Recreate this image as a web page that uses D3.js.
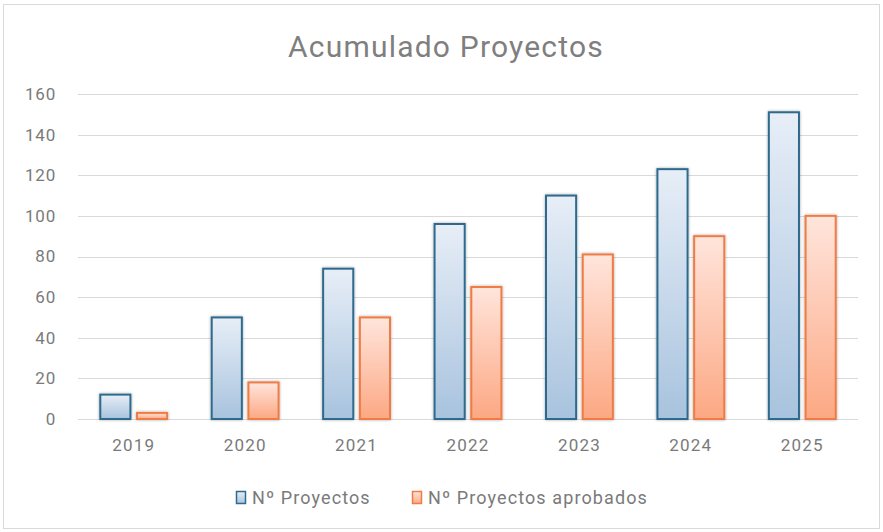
<html>
<head>
<meta charset="utf-8">
<script src="https://d3js.org/d3.v7.min.js"></script>
<style>
  body { margin: 0; background: #fff; }
  text { font-family: Roboto, "Noto Sans", sans-serif; }
</style>
</head>
<body>
<svg class="chart" width="883" height="532"></svg>
<script>

const years = ["2019", "2020", "2021", "2022", "2023", "2024", "2025"];
const proyectos = [12, 50, 74, 96, 110, 123, 151];
const aprobados = [3, 18, 50, 65, 81, 90, 100];
const yTicks = [0, 20, 40, 60, 80, 100, 120, 140, 160];
const seriesNames = ["Nº Proyectos", "Nº Proyectos aprobados"];

const svg = d3.select(".chart");

const margin = {left: 78, right: 25, top: 94, bottom: 113};
const W = 883, H = 532;
const labelGray = "#7a7a7a";

// outer frame
svg.append("rect")
    .attr("x", 3.5).attr("y", 4.5)
    .attr("width", W - 7).attr("height", H - 8)
    .attr("fill", "#fff").attr("stroke", "#d9d9d9");

const defs = svg.append("defs");
const grads = [["gBlue", "#e7eef7", "#a8c3de"], ["gOrange", "#ffe5dc", "#fca883"]];
grads.forEach(g => {
  const lg = defs.append("linearGradient").attr("id", g[0])
      .attr("x1", 0).attr("y1", 0).attr("x2", 0).attr("y2", 1);
  lg.append("stop").attr("offset", "0%").attr("stop-color", g[1]);
  lg.append("stop").attr("offset", "100%").attr("stop-color", g[2]);
});
const f = defs.append("filter").attr("id", "shadow")
    .attr("x", "-30%").attr("y", "-10%").attr("width", "160%").attr("height", "120%");
f.append("feGaussianBlur").attr("in", "SourceAlpha").attr("stdDeviation", 1.6).attr("result", "b");
f.append("feComponentTransfer").attr("in", "b").attr("result", "b2")
  .append("feFuncA").attr("type", "linear").attr("slope", 0.35);
const fm = f.append("feMerge");
fm.append("feMergeNode").attr("in", "b2");
fm.append("feMergeNode").attr("in", "SourceGraphic");

const x = d3.scaleBand()
    .domain(years)
    .range([margin.left, W - margin.right])
    .paddingInner(0.4).paddingOuter(0.2);

const x1 = d3.scaleBand()
    .domain([0, 1])
    .range([0, x.bandwidth()])
    .paddingInner(0.18);

const y = d3.scaleLinear()
    .domain([0, 160])
    .range([H - margin.bottom, margin.top]);

// grid
svg.append("g")
  .selectAll("line").data(yTicks).join("line")
    .attr("x1", margin.left).attr("x2", W - margin.right)
    .attr("y1", d => Math.round(y(d)) + 0.5).attr("y2", d => Math.round(y(d)) + 0.5)
    .attr("stroke", "#d9d9d9").attr("stroke-width", 1);

const yAxis = svg.append("g")
    .attr("transform", `translate(${margin.left - 22},0)`)
    .call(d3.axisLeft(y).tickValues(yTicks).tickSize(0).tickPadding(0));
yAxis.select(".domain").remove();
yAxis.selectAll("text").attr("font-size", 17).attr("fill", labelGray)
    .style("font-family", "Roboto, sans-serif").style("letter-spacing", "0.8px");

const xAxis = svg.append("g")
    .attr("transform", `translate(0,${H - margin.bottom})`)
    .call(d3.axisBottom(x).tickSize(0).tickPadding(20));
xAxis.select(".domain").remove();
xAxis.selectAll("text").attr("font-size", 17).attr("fill", labelGray)
    .style("font-family", "Roboto, sans-serif").style("letter-spacing", "1.2px");

const series = [
  {vals: proyectos, fill: "url(#gBlue)", stroke: "#2f6b8d"},
  {vals: aprobados, fill: "url(#gOrange)", stroke: "#ef7c44"}
];

series.forEach((s, si) => {
  svg.append("g").attr("filter", "url(#shadow)")
    .selectAll("rect").data(years).join("rect")
      .attr("x", (d, i) => x(d) + x1(si))
      .attr("y", (d, i) => y(s.vals[i]))
      .attr("width", x1.bandwidth())
      .attr("height", (d, i) => y(0) - y(s.vals[i]))
      .attr("fill", s.fill)
      .attr("stroke", s.stroke)
      .attr("stroke-width", 2);
});

// title
svg.append("text")
    .attr("x", 446).attr("y", 57)
    .attr("text-anchor", "middle")
    .attr("font-size", 30)
    .attr("fill", "#7f7f7f")
    .style("letter-spacing", "1.2px")
    .text("Acumulado Proyectos");

// legend
const legX = [236, 412];
seriesNames.forEach((n, i) => {
  const g = svg.append("g").attr("transform", `translate(${legX[i]},491)`);
  g.append("rect").attr("x", 0.5).attr("y", 0.5).attr("width", 9).attr("height", 12)
    .attr("fill", series[i].fill).attr("stroke", series[i].stroke).attr("stroke-width", 1.5);
  g.append("text").attr("x", 16).attr("y", 13)
    .attr("font-size", 18).attr("fill", labelGray)
    .style("letter-spacing", "1.1px").text(n);
});

</script>
</body>
</html>
